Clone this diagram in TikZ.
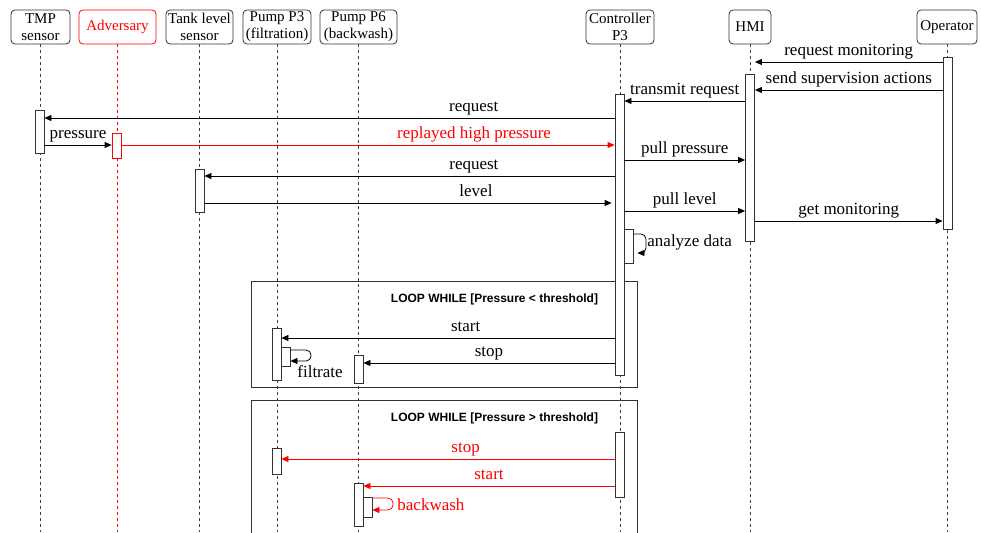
\documentclass[tikz,border=0pt]{standalone}
\usepackage{fontspec}
\setmainfont{Liberation Serif}
\setsansfont{Liberation Sans}
\usetikzlibrary{arrows.meta}
\tikzset{
	actor/.style={draw=black!80, rounded corners=4pt, align=center, inner sep=0pt,
		minimum height=34pt, font=\fontsize{15}{17}\selectfont},
	lifeline/.style={draw=black!75, dashed},
	act/.style={draw=black!80, fill=white, minimum width=9pt, inner sep=0pt},
	msg/.style={-{Triangle[length=7pt,width=6pt]}},
	lbl/.style={font=\fontsize{17}{19}\selectfont, anchor=base, yshift=6.5pt, inner sep=0pt},
	selflbl/.style={font=\fontsize{17}{19}\selectfont, anchor=west, inner sep=0pt},
	loopbox/.style={draw=black!80, minimum width=386pt, inner sep=0pt},
	looplabel/.style={font=\sffamily\bfseries\fontsize{12}{14}\selectfont, anchor=east, inner sep=0pt}
}

\begin{document}
\begin{tikzpicture}[x=1pt, y=-1pt, line width=0.8pt]
\useasboundingbox (0,0) rectangle (981,532);

\def\ybot{532}

% loop frames
\node[loopbox, minimum height=106pt] (loop1) at (444,334) {};
\node[looplabel] at ([xshift=-39pt,yshift=-18.5pt]loop1.north east) {LOOP WHILE [Pressure < threshold]};
\node[loopbox, minimum height=140pt] (loop2) at (444,470) {};
\node[looplabel] at ([xshift=-39pt,yshift=-18.5pt]loop2.north east) {LOOP WHILE [Pressure > threshold]};

% participants
\node[actor, minimum width=59pt] (tmp) at (40.5,27) {TMP\\sensor};
\node[actor, minimum width=77pt, draw=red, text=red] (adv) at (117.5,27) {Adversary};
\node[actor, minimum width=67pt] (tank) at (199.5,27) {Tank level\\sensor};
\node[actor, minimum width=68pt] (pthree) at (277,27) {Pump P3\\(filtration)};
\node[actor, minimum width=77pt] (psix) at (358.5,27) {Pump P6\\(backwash)};
\node[actor, minimum width=68pt] (ctrl) at (620,27) {Controller\\P3};
\node[actor, minimum width=42pt] (hmi) at (750,27) {HMI};
\node[actor, minimum width=60pt] (oper) at (947,27) {Operator};

\draw[lifeline] (tmp.south) -- (tmp.south |- 0,\ybot);
\draw[lifeline, draw=red] (adv.south) -- (adv.south |- 0,\ybot);
\draw[lifeline] (tank.south) -- (tank.south |- 0,\ybot);
\draw[lifeline] (pthree.south) -- (pthree.south |- 0,\ybot);
\draw[lifeline] (psix.south) -- (psix.south |- 0,\ybot);
\draw[lifeline] (ctrl.south) -- (ctrl.south |- 0,\ybot);
\draw[lifeline] (hmi.south) -- (hmi.south |- 0,\ybot);
\draw[lifeline] (oper.south) -- (oper.south |- 0,\ybot);

% activations
\node[act, minimum height=172pt] (oper1) at (947.5,143) {};
\node[act, minimum height=167pt] (hmi1) at (750,157.5) {};
\node[act, minimum height=281pt] (ctrl1) at (619.5,234.5) {};
\node[act, minimum height=34pt] (ctrl2) at (628.5,246) {};
\node[act, minimum height=43pt] (tmp1) at (39.5,131.5) {};
\node[act, minimum height=25pt, draw=red] (adv1) at (116.5,145.5) {};
\node[act, minimum height=43pt] (tank1) at (199.5,190.5) {};
\node[act, minimum height=52pt] (pthree1) at (276.5,354) {};
\node[act, minimum height=19pt] (pthree2) at (285.5,356.5) {};
\node[act, minimum height=28pt] (psix1) at (358.5,369) {};
\node[act, minimum height=65pt] (ctrl3) at (619.5,464.5) {};
\node[act, minimum height=26pt] (pthree3) at (276.5,461) {};
\node[act, minimum height=43pt] (psix2) at (358.5,504.5) {};
\node[act, minimum height=20pt] (psix3) at (367.5,507) {};

% messages
\draw[msg] (oper1.west |- 0,62) -- (hmi1.east |- 0,62) node[lbl, midway] {request monitoring};
\draw[msg] (oper1.west |- 0,90) -- (hmi1.east |- 0,90) node[lbl, midway] {send supervision actions};
\draw[msg] (hmi1.west |- 0,101) -- (ctrl1.east |- 0,101) node[lbl, midway] {transmit request};
\draw[msg] (ctrl1.west |- 0,118) -- (tmp1.east |- 0,118) node[lbl, pos=0.247] {request};
\draw[msg] (tmp1.east |- 0,145) -- (adv1.west |- 0,145) node[lbl, midway] {pressure};
\draw[msg, red] (adv1.east |- 0,145) -- (ctrl1.west |- 0,145) node[lbl, pos=0.715] {replayed high pressure};
\draw[msg] (ctrl1.east |- 0,160) -- (hmi1.west |- 0,160) node[lbl, midway] {pull pressure};
\draw[msg] (ctrl1.west |- 0,176) -- (tank1.east |- 0,176) node[lbl, pos=0.343] {request};
\draw[msg, shorten >=3pt] (tank1.east |- 0,203) -- (ctrl1.west |- 0,203) node[lbl, pos=0.662] {level};
\draw[msg] (ctrl1.east |- 0,211) -- (hmi1.west |- 0,211) node[lbl, midway] {pull level};
\draw[msg] (hmi1.east |- 0,221) -- (oper1.west |- 0,221) node[lbl, midway] {get monitoring};
\draw[msg, rounded corners=5pt] (ctrl2.east |- 0,234) -| (646,253) -- ([xshift=4pt]ctrl2.east |- 0,253);
\node[selflbl] (analyze) at (647,242) {analyze data};

\draw[msg] (ctrl1.west |- 0,338) -- (pthree1.east |- 0,338) node[lbl, pos=0.447] {start};
\draw[msg, rounded corners=5pt] (pthree2.east |- 0,350) -| (311,361) -- (pthree2.east |- 0,361);
\node[selflbl] (filtrate) at (297,372) {filtrate};
\draw[msg] (ctrl1.west |- 0,363) -- (psix1.east |- 0,363) node[lbl, midway] {stop};

\draw[msg, red] (ctrl3.west |- 0,459) -- (pthree3.east |- 0,459) node[lbl, pos=0.447] {stop};
\draw[msg, red] (ctrl3.west |- 0,486) -- (psix2.east |- 0,486) node[lbl, midway] {start};
\draw[msg, red, rounded corners=5pt] (psix3.east |- 0,498) -| (393,510) -- (psix3.east |- 0,510);
\node[selflbl, text=red] (backwash) at (397,505) {backwash};
\end{tikzpicture}
\end{document}
